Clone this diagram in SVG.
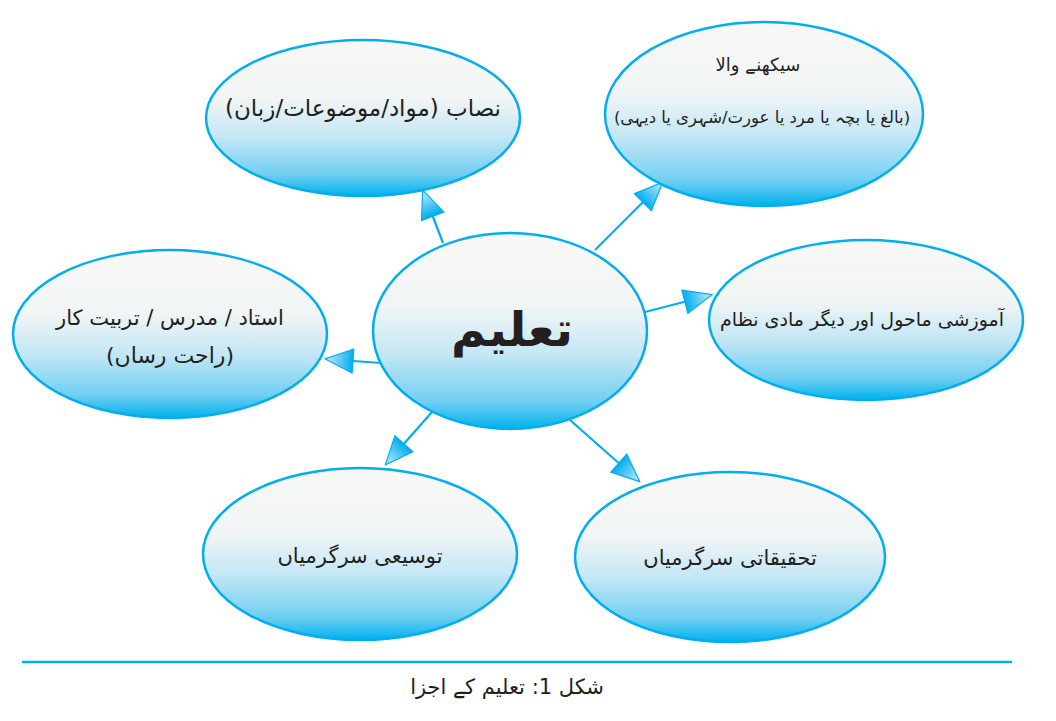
<svg xmlns="http://www.w3.org/2000/svg" width="1056" height="721" viewBox="0 0 1056 721">
<defs>
  <linearGradient id="eg" x1="0" y1="0" x2="0" y2="1">
    <stop offset="0" stop-color="#f8f8f6"/>
    <stop offset="0.38" stop-color="#f1f5f5"/>
    <stop offset="0.62" stop-color="#c4e7f5"/>
    <stop offset="0.86" stop-color="#72cff1"/>
    <stop offset="1" stop-color="#00b1ee"/>
  </linearGradient>
  <linearGradient id="ag" x1="0" y1="0" x2="1" y2="0">
    <stop offset="0" stop-color="#00aeef"/>
    <stop offset="1" stop-color="#c9ecfa"/>
  </linearGradient>
  <marker id="ah" markerUnits="userSpaceOnUse" viewBox="-1 -1 30 26" refX="27" refY="12" markerWidth="30" markerHeight="26" orient="auto">
    <path d="M0,0 L28,12 L0,24 Z" fill="url(#ag)" stroke="#00aeef" stroke-width="1.2" stroke-linejoin="miter"/>
  </marker>
  <style>
    .node ellipse { fill: url(#eg); stroke: #00aeef; stroke-width: 2.5; }
    .lbl { font-family: "DejaVu Sans", "Noto Sans", sans-serif; fill: #231f20; text-anchor: middle; direction: rtl; }
    .conn line { stroke: #00aeef; stroke-width: 2.2; marker-end: url(#ah); }
  </style>
</defs>
<rect width="1056" height="721" fill="#ffffff"/>

<g id="connectors" class="conn">
  <line x1="443" y1="243" x2="423" y2="191"/>
  <line x1="595" y1="250" x2="662" y2="183"/>
  <line x1="645" y1="312" x2="711" y2="295"/>
  <line x1="381" y1="363" x2="326" y2="359"/>
  <line x1="432" y1="412" x2="386" y2="464"/>
  <line x1="570" y1="420" x2="639" y2="481"/>
</g>

<g id="node-nisab" class="node">
  <ellipse cx="363" cy="118" rx="157" ry="78"/>
  <text class="lbl" x="363" y="116" font-size="23">نصاب (مواد/موضوعات/زبان)</text>
</g>

<g id="node-learner" class="node">
  <ellipse cx="764" cy="114" rx="159" ry="92"/>
  <text class="lbl" x="758" y="71" font-size="18">سیکھنے والا</text>
  <text class="lbl" x="762" y="123" font-size="16.5">(بالغ یا بچہ یا مرد یا عورت/شہری یا دیہی)</text>
</g>

<g id="node-teacher" class="node">
  <ellipse cx="170" cy="334" rx="157" ry="84"/>
  <text class="lbl" x="170" y="325" font-size="21">استاد / مدرس / تربیت کار</text>
  <text class="lbl" x="170" y="363" font-size="22">(راحت رساں)</text>
</g>

<g id="node-center" class="node">
  <ellipse cx="510" cy="331" rx="137" ry="98"/>
  <text class="lbl" x="512" y="346" font-size="48" font-weight="bold">تعلیم</text>
</g>

<g id="node-environment" class="node">
  <ellipse cx="866" cy="320" rx="157" ry="80"/>
  <text class="lbl" x="862" y="326" font-size="19">آموزشی ماحول اور دیگر مادی نظام</text>
</g>

<g id="node-extension" class="node">
  <ellipse cx="360" cy="554" rx="157" ry="86"/>
  <text class="lbl" x="360" y="563" font-size="21">توسیعی سرگرمیاں</text>
</g>

<g id="node-research" class="node">
  <ellipse cx="730" cy="557" rx="155" ry="85"/>
  <text class="lbl" x="730" y="565" font-size="21">تحقیقاتی سرگرمیاں</text>
</g>

<g id="caption">
  <line x1="22" y1="662" x2="1012" y2="662" stroke="#00aeef" stroke-width="2.5"/>
  <text class="lbl" x="507" y="694" font-size="21">شکل 1: تعلیم کے اجزا</text>
</g>
</svg>
